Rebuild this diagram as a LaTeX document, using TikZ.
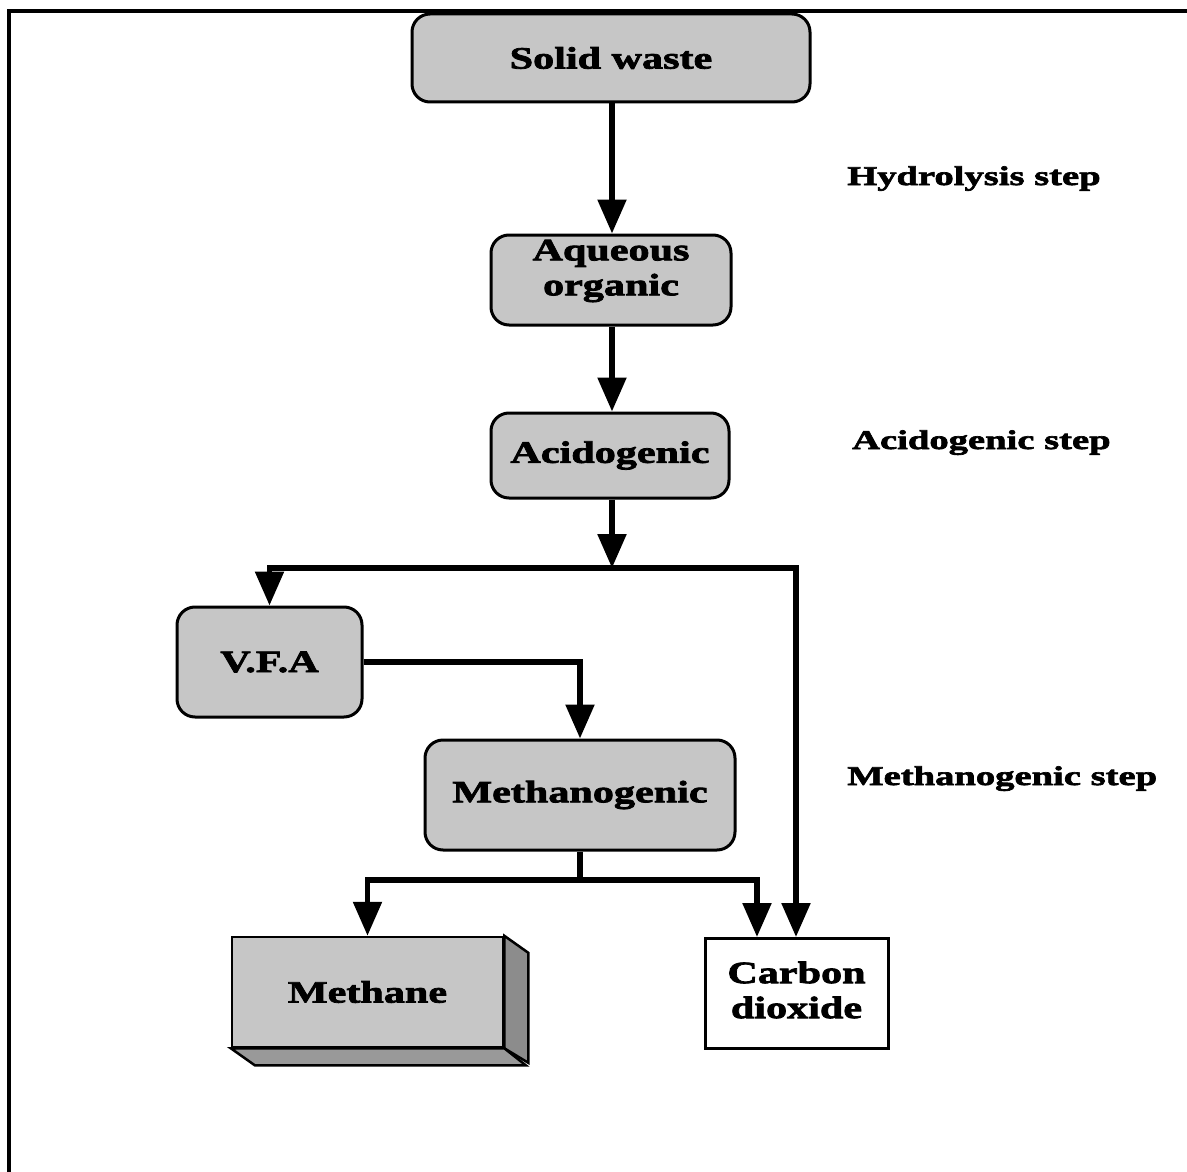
\documentclass[tikz,border=0pt]{standalone}
\usepackage{fontspec}
\setmainfont{Liberation Serif}
\newfontfamily\boxfont[FakeStretch=1.36,FakeBold=2.5]{Liberation Serif}
\newfontfamily\lblfont[FakeStretch=1.43,FakeBold=2.5]{Liberation Serif}
\usetikzlibrary{arrows.meta}
\begin{document}
\begin{tikzpicture}[x=1pt,y=-1pt,
  boxtext/.style={font=\boxfont\bfseries\fontsize{31}{35}\selectfont, align=center, inner sep=0pt},
  roundbox/.style={boxtext, draw, line width=3pt, fill=gray!45, rounded corners=18pt},
  plainbox/.style={boxtext, draw, line width=3pt, fill=white},
  steplabel/.style={font=\lblfont\bfseries\fontsize{27}{30}\selectfont, inner sep=0pt, anchor=base west},
  conn/.style={line width=5.5pt},
  arr/.style={line width=5.5pt, -{Triangle[length=34pt,width=28pt]}}
]
\useasboundingbox (0,0) rectangle (1187,1172);
\fill[white] (0,0) rectangle (1187,1172);
% frame (top and left)
\draw[line width=4pt] (9,1172) -- (9,11) -- (1187,11);

% nodes
\node[roundbox, minimum width=398pt, minimum height=88pt] (sw) at (611,58) {Solid waste};
\node[roundbox, minimum width=240pt, minimum height=90pt] (aq) at (611,280) {};
\node[boxtext] (aqt) at (611,271) {Aqueous\\organic};
\node[roundbox, minimum width=238pt, minimum height=85pt] (ac) at (610,455.5) {Acidogenic};
\node[roundbox, minimum width=185pt, minimum height=110pt] (vfa) at (269.5,662) {V.F.A};
\node[roundbox, minimum width=310pt, minimum height=110pt] (mg) at (580,795) {Methanogenic};
\node[plainbox, minimum width=183pt, minimum height=110pt] (co2) at (796.5,993.5) {};
\node[boxtext] (co2t) at (796.5,990) {Carbon\\dioxide};

% methane cuboid
\node[boxtext, draw, line width=2.5pt, fill=gray!45, minimum width=271pt, minimum height=110pt] (me) at (367.5,992) {Methane};
\draw[line width=2.5pt, fill=black!45] (me.north east) -- ++(24,17) -- ++(0,110) -- (me.south east) -- cycle;
\draw[line width=2.5pt, fill=black!40] (me.south west) -- ++(24,17) -- ++(271,0) -- (me.south east) -- cycle;

% step labels
\node[steplabel] (l1) at (847,185) {Hydrolysis step};
\node[steplabel] (l2) at (852,449) {Acidogenic step};
\node[steplabel] (l3) at (847,785) {Methanogenic step};

% connectors
\draw[arr] (sw.south -| 612,0) -- (aq.north -| 612,0);
\draw[arr] (aq.south -| 612,0) -- (ac.north -| 612,0);
\coordinate (j1) at (612,568);
\coordinate (jl) at (269.5,568);
\coordinate (jr) at (796,568);
\draw[arr] (ac.south -| j1) -- (j1);
\draw[conn] (jl) -- (jr);
\draw[arr] ([yshift=2.75pt]jl) -- (vfa.north);
\draw[arr] ([yshift=2.75pt]jr) -- (jr |- co2.north);
\draw[arr] (vfa.east) -| (mg.north);
\coordinate (jm) at (580,880);
\draw[conn] (mg.south) -- (jm);
\draw[arr] (jm) -| (me.north);
\draw[arr] (jm) -| ([xshift=-39.5pt]co2.north);
\end{tikzpicture}
\end{document}
